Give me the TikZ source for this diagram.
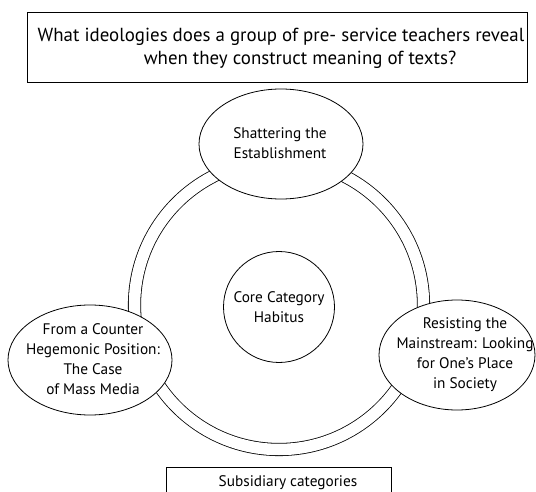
\documentclass[tikz,border=0pt]{standalone}
\usepackage{fontspec}
\setmainfont{PT Sans}
\usetikzlibrary{shapes.geometric}
\begin{document}
\begin{tikzpicture}[x=1pt,y=-1pt,
  every node/.style={inner sep=0pt, outer sep=0pt},
  sm/.style={font=\fontsize{15.3}{20}\selectfont, align=center},
  big/.style={font=\fontsize{18.9}{23}\selectfont, align=center},
  ell/.style={ellipse, draw, line width=0.8pt, fill=white},
  boxy/.style={rectangle, draw, line width=1pt, fill=white}]
\useasboundingbox (0,0) rectangle (536,492);
\clip (0,0) rectangle (536,492);
% ring
\node[circle, draw, line width=0.8pt, double, double distance=11.5pt, minimum size=289pt] (ring) at (279,305) {};
% question box
\node[boxy, minimum width=500pt, minimum height=70pt] (q) at (277,48) {};
\node[big] (q1) at (281,37) {What ideologies does a group of pre- service teachers reveal};
\node[big] (q2) at (300,60) {when they construct meaning of texts?};
% ellipses
\node[ell, minimum width=164pt, minimum height=110pt] (top) at (281,144) {};
\node[sm] (toptext) at (280,143) {Shattering the\\Establishment};
\node[ell, minimum width=164pt, minimum height=110pt] (left) at (90,360) {};
\node[sm] (lefttext) at (93,359) {From a Counter\\Hegemonic Position:\\The Case\\of Mass Media};
\node[ell, minimum width=156pt, minimum height=110pt] (right) at (457,355) {};
\node[sm] (righttext) at (465,355) {Resisting the\\Mainstream: Looking\\for One’s Place\\in Society};
% core
\node[circle, draw, line width=0.8pt, minimum size=111pt] (core) at (279,307) {};
\node[sm] (coretext) at (279,307) {Core Category\\Habitus};
% bottom box
\node[boxy, minimum width=225pt, minimum height=50pt] (sub) at (278.5,492) {};
\node[sm, anchor=base] (subtext) at (288,486) {Subsidiary categories};
\end{tikzpicture}
\end{document}
